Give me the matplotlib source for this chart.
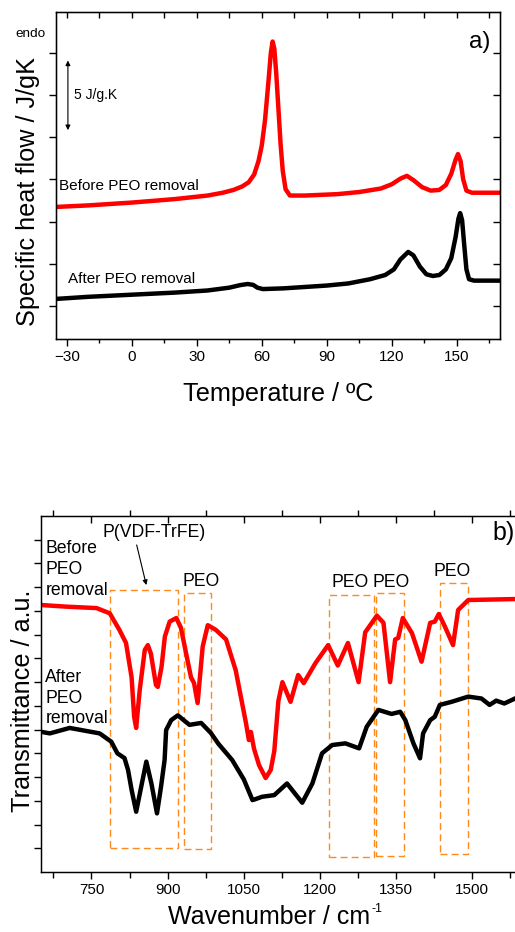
import matplotlib
matplotlib.use("Agg")
import matplotlib.pyplot as plt
from matplotlib.patches import Rectangle

plt.rcParams['font.family'] = ['Liberation Sans', 'DejaVu Sans']

# ---- DSC data (temperature in C, heat flow in J/gK, curves offset) ----
t_before = [-35, -20, 0, 20, 35, 42, 47, 51, 54, 56.5, 58.5, 60, 61.5, 63, 64.2,
            65, 65.8, 66.7, 67.7, 68.7, 69.7, 71, 73, 80, 95, 105, 115, 120, 124,
            127, 130, 134, 138, 142, 145, 147.5, 149.5, 150.6, 151.8, 153, 154.5,
            157, 170]
hf_before = [10.04, 10.15, 10.35, 10.6, 10.85, 11.05, 11.25, 11.5, 11.8, 12.35,
             13.3, 14.4, 16.2, 18.8, 21.0, 21.8, 21.3, 19.5, 17.0, 14.5, 12.6, 11.3,
             10.85, 10.85, 10.95, 11.1, 11.35, 11.65, 12.05, 12.25, 11.95, 11.45,
             11.2, 11.25, 11.6, 12.4, 13.4, 13.8, 13.3, 12.0, 11.2, 11.05, 11.05]
t_after = [-35, -20, 0, 20, 35, 45, 50, 53.5, 56, 58, 60.5, 70, 90, 100, 110, 117,
           121, 124, 127.6, 130, 133, 136, 139, 142, 145, 147.5, 149.5, 150.8,
           151.6, 152.5, 153.5, 154.5, 155.7, 158, 170]
hf_after = [3.5, 3.65, 3.8, 3.95, 4.1, 4.3, 4.48, 4.56, 4.5, 4.3, 4.2, 4.25, 4.45,
            4.6, 4.9, 5.2, 5.6, 6.3, 6.84, 6.6, 5.8, 5.25, 5.13, 5.2, 5.6, 6.4, 7.9,
            9.2, 9.6, 9.1, 7.3, 5.6, 4.9, 4.8, 4.8]

# ---- FTIR data (wavenumber in cm-1, transmittance a.u., offset) ----
wn_before = [650, 701, 760, 786, 805, 818, 829, 834, 838, 845, 855, 861, 867, 877,
             880.6, 888, 894.5, 904, 917, 926, 939, 946, 952, 959, 969, 979, 995,
             1015, 1034, 1054, 1060, 1064, 1070, 1080, 1093, 1103, 1110, 1118, 1126,
             1142, 1157, 1168, 1191, 1216, 1235, 1255, 1276, 1289, 1312, 1325, 1338,
             1348, 1354, 1363, 1381, 1400, 1417, 1426, 1434, 1446, 1462, 1472, 1492,
             1584]
tr_before = [11.25, 11.18, 11.12, 10.9, 10.2, 9.65, 8.2, 6.54, 6.07, 7.67, 9.36,
             9.56, 9.2, 7.88, 7.8, 8.65, 9.92, 10.55, 10.7, 10.3, 8.93, 8.2, 7.96,
             7.12, 9.5, 10.4, 10.2, 9.8, 8.5, 6.3, 5.56, 5.9, 5.2, 4.5, 3.96, 4.3,
             5.1, 7.2, 8.0, 7.17, 8.3, 7.96, 8.8, 9.56, 8.7, 9.65, 8.0, 10.1, 10.8,
             10.5, 8.0, 9.8, 9.86, 10.7, 10.07, 8.86, 10.5, 10.55, 10.87, 10.34,
             9.56, 11.04, 11.46, 11.5]
wn_after = [650, 668, 707, 766, 789, 801, 815, 822, 829, 838, 848, 858, 868, 879,
            887, 894, 897, 907, 920, 943, 966, 985, 1000, 1027, 1050, 1067, 1073,
            1086, 1110, 1135, 1165, 1185, 1204, 1224, 1250, 1277, 1292, 1315, 1341,
            1358, 1368, 1384, 1397, 1403, 1417, 1426, 1436, 1459, 1492, 1518, 1534,
            1547, 1563, 1584]
tr_after = [5.91, 5.84, 6.07, 5.84, 5.49, 5.0, 4.8, 4.3, 3.46, 2.54, 3.6, 4.65,
            3.73, 2.47, 3.6, 4.72, 5.98, 6.4, 6.6, 6.2, 6.28, 5.86, 5.4, 4.72, 3.9,
            3.03, 3.07, 3.17, 3.24, 3.73, 2.92, 3.73, 5.0, 5.35, 5.42, 5.21, 6.12,
            6.83, 6.66, 6.75, 6.4, 5.42, 4.79, 5.84, 6.4, 6.54, 7.04, 7.17, 7.39,
            7.31, 7.04, 7.22, 7.1, 7.31]

# dashed boxes marking bands
box_left = [786, 933, 1217, 1310, 1437]
box_right = [921, 986, 1307, 1366, 1492]
box_bottom = [1.0, 0.98, 0.65, 0.69, 0.74]
box_top = [11.9, 11.77, 11.66, 11.74, 12.19]
peo_x = [966, 1260, 1341, 1460]
peo_y = [12.26, 12.19, 12.19, 12.68]

W, H = 515, 932
fig = plt.figure(figsize=(W / 100, H / 100), dpi=100)


def ax_rect(l, t, r, b):
    return [l / W, 1 - b / H, (r - l) / W, (b - t) / H]


# ================= top panel: DSC =================
ax1 = fig.add_axes(ax_rect(56, 12, 500, 339))
ax1.plot(t_before, hf_before, color="red", lw=3.2, solid_joinstyle="round")
ax1.plot(t_after, hf_after, color="black", lw=3.2, solid_joinstyle="round")
ax1.set_xlim(-35, 170)
ax1.set_ylim(0.65, 23.9)
ax1.set_xticks(range(-30, 151, 30))
ax1.set_xticks(range(-15, 170, 30), minor=True)
ax1.set_yticks(range(3, 22, 3))
ax1.set_yticklabels([])
ax1.tick_params(axis="x", which="major", direction="out", length=5, width=1,
                labelsize=11, pad=3)
ax1.tick_params(axis="x", which="minor", direction="out", length=3, width=1)
ax1.tick_params(axis="y", which="major", direction="out", length=5, width=1)
for s in ax1.spines.values():
    s.set_linewidth(1)

top1 = ax1.twiny()
top1.set_xlim(ax1.get_xlim())
top1.set_xticks(range(-30, 170, 15))
top1.set_xticklabels([])
top1.tick_params(axis="x", direction="in", length=4, width=1)
right1 = ax1.twinx()
right1.set_ylim(ax1.get_ylim())
right1.set_yticks(range(3, 22, 3))
right1.set_yticklabels([])
right1.tick_params(axis="y", direction="in", length=5, width=1)

ax1.text(-33.7, 11.5, "Before PEO removal", fontsize=11, ha="left", va="center")
ax1.text(-29.5, 4.9, "After PEO removal", fontsize=11, ha="left", va="center")
ax1.text(-26.8, 18.0, "5 J/g.K", fontsize=10, ha="left", va="center")
ax1.annotate("", xy=(-29.5, 20.45), xytext=(-29.5, 15.5),
             arrowprops=dict(arrowstyle="<|-|>", color="black", lw=0.8,
                             mutation_scale=7, shrinkA=0, shrinkB=0))
ax1.text(165.5, 21.8, "a)", fontsize=17.5, ha="right", va="center")
fig.text(15 / W, 1 - 34 / H, "endo", fontsize=9.7, ha="left", va="center")
fig.text(35 / W, 1 - 192 / H, "Specific heat flow / J/gK", fontsize=18.2,
         rotation=90, rotation_mode="anchor", ha="center", va="baseline")
fig.text(278.5 / W, 1 - 401 / H, "Temperature / ºC", fontsize=18.2,
         ha="center", va="baseline")

# ================= bottom panel: FTIR =================
ax2 = fig.add_axes(ax_rect(40.7, 516, 515, 872))
ax2.plot(wn_before, tr_before, color="red", lw=3.2, solid_joinstyle="round")
ax2.plot(wn_after, tr_after, color="black", lw=3.2, solid_joinstyle="round")
for l, r, b, t in zip(box_left, box_right, box_bottom, box_top):
    ax2.add_patch(Rectangle((l, b), r - l, t - b, fill=False, edgecolor="#FF8A1C",
                            lw=1, linestyle=(0, (5, 3))))
ax2.text(874, 14.29, "P(VDF-TrFE)", fontsize=12.7, ha="center", va="center")
for px, py in zip(peo_x, peo_y):
    ax2.text(px, py, "PEO", fontsize=12.7, ha="center", va="center")
ax2.annotate("", xy=(858, 12.09), xytext=(839, 13.78),
             arrowprops=dict(arrowstyle="-|>", color="black", lw=0.8,
                             mutation_scale=7, shrinkA=0, shrinkB=0))
ax2.text(659, 12.73, "Before\nPEO\nremoval", fontsize=12.7, ha="left",
         va="center", linespacing=1.3)
ax2.text(659, 7.33, "After\nPEO\nremoval", fontsize=12.7, ha="left",
         va="center", linespacing=1.3)
ax2.text(1583, 14.29, "b)", fontsize=18, ha="right", va="center")

ax2.set_xlim(650, 1584)
ax2.set_ylim(0, 15)
ax2.set_xticks(range(750, 1501, 150))
ax2.set_xticks(range(675, 1584, 150), minor=True)
ax2.set_yticks(range(1, 15))
ax2.set_yticklabels([])
ax2.spines["right"].set_visible(False)
ax2.tick_params(axis="x", which="major", direction="out", length=5, width=1,
                labelsize=11, pad=3)
ax2.tick_params(axis="x", which="minor", direction="out", length=4, width=1)
ax2.tick_params(axis="y", direction="out", length=5, width=1)
for s in ax2.spines.values():
    s.set_linewidth(1)

top2 = ax2.twiny()
top2.set_xlim(ax2.get_xlim())
top2.set_xticks(range(750, 1501, 150))
top2.set_xticks(range(675, 1584, 150), minor=True)
top2.set_xticklabels([])
top2.tick_params(axis="x", which="major", direction="in", length=5, width=1)
top2.tick_params(axis="x", which="minor", direction="out", length=4, width=1)
top2.spines["right"].set_visible(False)

fig.text(30 / W, 1 - 701 / H, "Transmittance / a.u.", fontsize=18.2,
         rotation=90, rotation_mode="anchor", ha="center", va="baseline")
xl = fig.text(168 / W, 1 - 924 / H, "Wavenumber / cm", fontsize=18,
              ha="left", va="baseline")
fig.canvas.draw()
bb = xl.get_window_extent(fig.canvas.get_renderer())
fig.text(bb.x1 / W + 1 / W, 1 - 912 / H, "-1", fontsize=9, ha="left",
         va="baseline")

fig.savefig("out.png", dpi=100)
